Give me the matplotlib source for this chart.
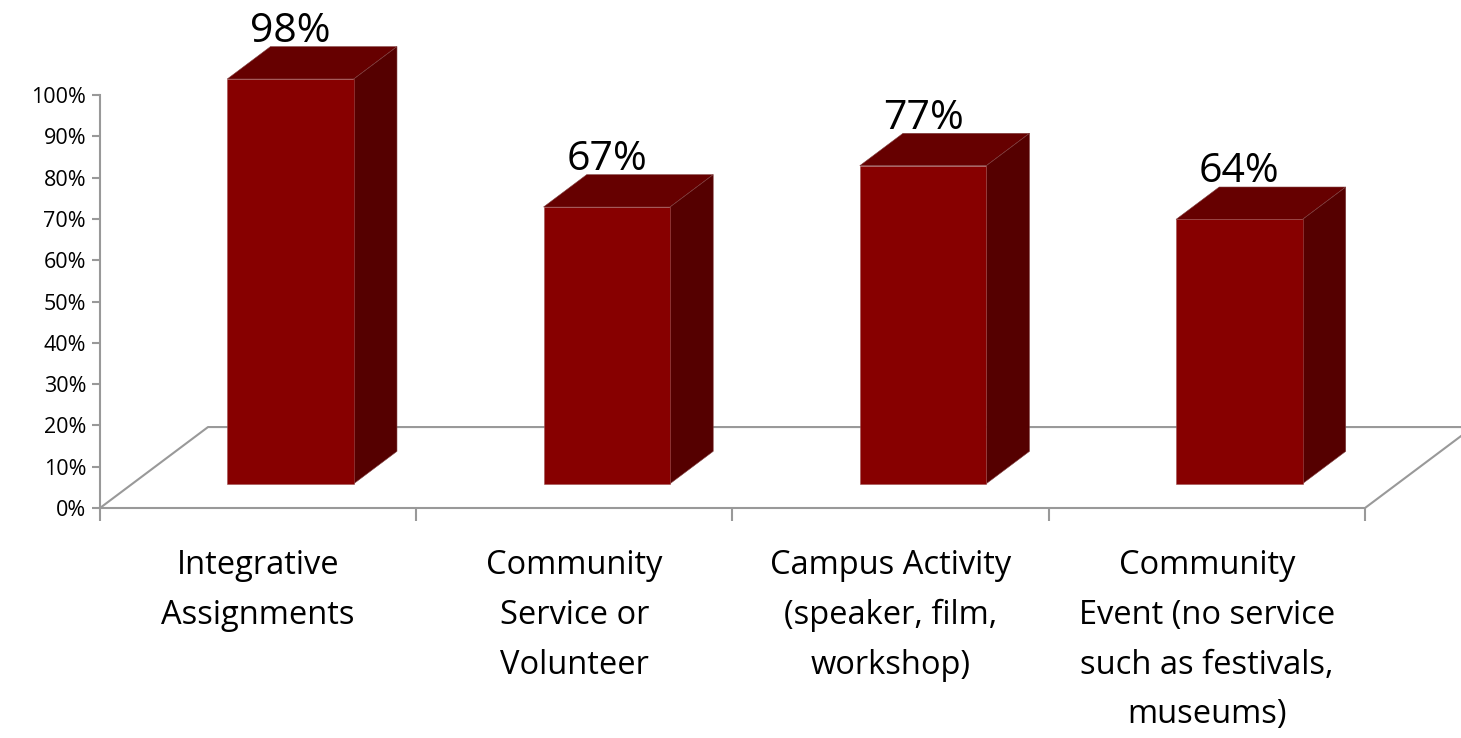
import numpy as np
import matplotlib.pyplot as plt
from matplotlib.patches import Polygon
import matplotlib.transforms as mtransforms

plt.rcParams['font.family'] = ['Open Sans', 'DejaVu Sans']

# Data
categories = ['Integrative\nAssignments',
              'Community\nService or\nVolunteer',
              'Campus Activity\n(speaker, film,\nworkshop)',
              'Community\nEvent (no service\nsuch as festivals,\nmuseums)']
values = [98, 67, 77, 64]
yticks = np.arange(0, 101, 10)

# Colours
front_col = '#870000'
top_col = '#660000'
side_col = '#550000'
grid_col = '#999999'

# fake 3D geometry (in data units)
depth_x = 0.3415     # floor depth along x
depth_y = 19.6       # floor depth along y
bar_w = 0.4
z0, z1 = 0.3, 0.7    # bar sits between these fractions of the floor depth

fig = plt.figure(figsize=(14.61, 7.38), dpi=100)
ax = fig.add_axes([100 / 1461, 230 / 738, 1265 / 1461, 413 / 738])
ax.set_xlim(0, 4)
ax.set_ylim(0, 100)

# floor
n = len(values)
floor = [(0, 0), (depth_x, depth_y), (n + depth_x, depth_y), (n, 0), (0, 0)]
ax.plot([p[0] for p in floor], [p[1] for p in floor], color=grid_col, lw=1.5,
        clip_on=False, zorder=1)

x = np.arange(n) + 0.5
fx = x - bar_w / 2 + z0 * depth_x
fy = z0 * depth_y
bdx = (z1 - z0) * depth_x
bdy = (z1 - z0) * depth_y

ax.bar(fx, values, width=bar_w, bottom=fy, align='edge', color=front_col,
       edgecolor='#a05050', lw=0.4, zorder=3, clip_on=False)
for xi, v in zip(fx, values):
    top = fy + v
    ax.add_patch(Polygon([(xi, top), (xi + bdx, top + bdy),
                          (xi + bar_w + bdx, top + bdy), (xi + bar_w, top)],
                         closed=True, fc=top_col, ec='#804040', lw=0.4,
                         zorder=2, clip_on=False))
    ax.add_patch(Polygon([(xi + bar_w, fy), (xi + bar_w + bdx, fy + bdy),
                          (xi + bar_w + bdx, top + bdy), (xi + bar_w, top)],
                         closed=True, fc=side_col, ec='#804040', lw=0.4,
                         zorder=2, clip_on=False))
    ax.text(xi + bar_w / 2, top + bdy + 1.1, f'{v}%', ha='center',
            va='baseline', fontsize=29.5, clip_on=False)

# axes styling
for s in ['top', 'right', 'bottom']:
    ax.spines[s].set_visible(False)
ax.spines['left'].set_color(grid_col)
ax.spines['left'].set_linewidth(1.5)
ax.set_yticks(yticks)
ax.set_yticklabels([f'{t}%' for t in yticks], fontsize=15.5)
ax.tick_params(axis='y', length=6, width=1.5, color=grid_col, pad=4)
ax.set_xticks(np.arange(n + 1))
ax.set_xticklabels([])
ax.tick_params(axis='x', length=9, width=1.5, color=grid_col)

trans = mtransforms.blended_transform_factory(ax.transData, fig.transFigure)
for xi, lab in zip(x, categories):
    ax.text(xi, 1 - 549 / 738, lab, transform=trans, ha='center', va='top',
            fontsize=23.5, linespacing=1.67)

fig.savefig('out.png', dpi=100)
